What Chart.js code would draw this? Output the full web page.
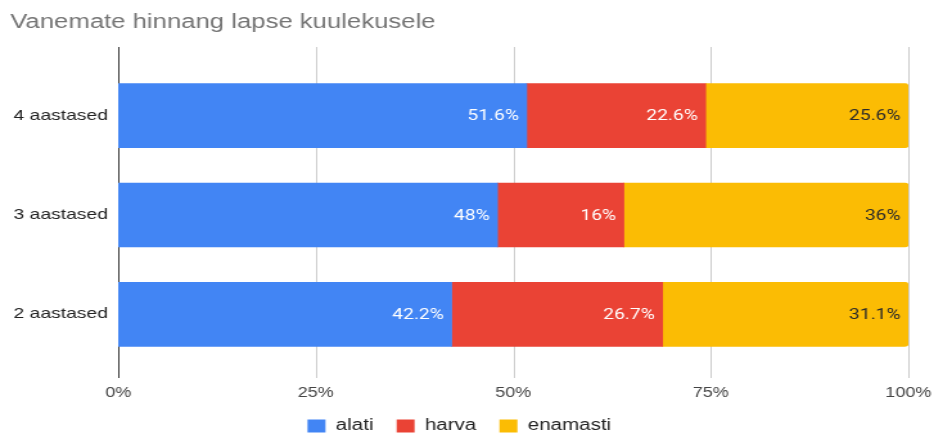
<!DOCTYPE html>
<html>
<head>
<meta charset="utf-8">
<script src="https://cdn.jsdelivr.net/npm/chart.js@4.4.0/dist/chart.umd.min.js"></script>
<style>
  html, body { margin: 0; padding: 0; background: #fff; overflow: hidden; }
  /* originaal on horisontaalselt venitatud, seega venitame ka lõuendit */
  #canvas { display: block; width: 934px; height: 433px; }
</style>
</head>
<body>
<canvas id="canvas" width="727" height="433" style="width:934px;height:433px"></canvas>
<script>
// andmed loetud pildilt
var categories = ["4 aastased", "3 aastased", "2 aastased"];
var alati = [51.6, 48, 42.2];
var harva = [22.6, 16, 26.7];
var enamasti = [25.6, 36, 31.1];
var xTicks = [0, 25, 50, 75, 100];

// 100% virna jaoks normaliseerime rea summa järgi
function normalize(arr) {
    return arr.map(function (v, i) {
        var sum = alati[i] + harva[i] + enamasti[i];
        return v / sum * 100;
    });
}

var axisFont = "'Liberation Sans', Arial, sans-serif";

/**
 * Väärtuste sildid lõigu paremasse serva (datalabels plugina asemel)
 */
var valueLabels = {
    id: 'valueLabels',
    afterDatasetsDraw: function (chart) {
        var ctx = chart.ctx;
        ctx.save();
        ctx.font = "15px Roboto, sans-serif";
        ctx.textAlign = 'right';
        ctx.textBaseline = 'middle';
        chart.data.datasets.forEach(function (ds, di) {
            var meta = chart.getDatasetMeta(di);
            meta.data.forEach(function (bar, i) {
                ctx.fillStyle = ds.labelColor;
                ctx.fillText(ds.raw[i] + '%', bar.x - 6, bar.y + 1);
            });
        });
        ctx.restore();
    }
};

/**
 * Vertikaalsed ruudujooned veidi üle joonise ala
 */
var gridLines = {
    id: 'gridLines',
    beforeDatasetsDraw: function (chart) {
        var ctx = chart.ctx;
        var x = chart.scales.x;
        var area = chart.chartArea;
        ctx.save();
        xTicks.forEach(function (t) {
            var px = Math.round(x.getPixelForValue(t)) + 0.5;
            ctx.strokeStyle = t === 0 ? '#333333' : '#cccccc';
            ctx.lineWidth = 1;
            ctx.beginPath();
            ctx.moveTo(px, area.top - 19);
            ctx.lineTo(px, area.bottom + 14);
            ctx.stroke();
        });
        ctx.restore();
    }
};

var chart = new Chart(document.getElementById("canvas"), {
    type: 'bar',
    data: {
        labels: categories,
        datasets: [{
            label: 'alati',
            data: normalize(alati),
            raw: alati,
            backgroundColor: '#4285F4',
            labelColor: '#ffffff',
            borderRadius: 0
        }, {
            label: 'harva',
            data: normalize(harva),
            raw: harva,
            backgroundColor: '#EA4335',
            labelColor: '#ffffff',
            borderRadius: 0
        }, {
            label: 'enamasti',
            data: normalize(enamasti),
            raw: enamasti,
            backgroundColor: '#FBBC04',
            labelColor: '#2a2a2a',
            borderRadius: 3,
            borderSkipped: 'start'
        }]
    },
    options: {
        indexAxis: 'y',
        responsive: false,
        animation: false,
        layout: { padding: { left: 8, right: 20, top: 0, bottom: 0 } },
        datasets: {
            bar: { barThickness: 64 }
        },
        plugins: {
            title: {
                display: true,
                text: 'Vanemate hinnang lapse kuulekusele',
                align: 'start',
                color: '#757575',
                font: { family: axisFont, size: 20, weight: 'normal' },
                padding: { top: 10, bottom: 32 }
            },
            legend: {
                position: 'bottom',
                maxHeight: 33,
                labels: {
                    boxWidth: 14,
                    boxHeight: 13,
                    padding: 18,
                    color: '#222222',
                    font: { family: axisFont, size: 16 }
                }
            },
            tooltip: { enabled: false }
        },
        scales: {
            x: {
                stacked: true,
                min: 0,
                max: 100,
                afterBuildTicks: function (axis) {
                    axis.ticks = xTicks.map(function (v) { return { value: v }; });
                },
                afterFit: function (axis) {
                    axis.height = 36;
                    axis.paddingLeft = 0;
                    axis.paddingRight = 0;
                },
                grid: { display: false, drawTicks: false },
                border: { display: false },
                ticks: {
                    padding: 21,
                    color: '#444444',
                    font: { family: axisFont, size: 14 },
                    callback: function (v) { return v + '%'; }
                }
            },
            y: {
                stacked: true,
                grid: { display: false, drawTicks: false },
                border: { display: false },
                afterFit: function (axis) { axis.width = 84; },
                ticks: {
                    padding: 8,
                    color: '#222222',
                    font: { family: axisFont, size: 15 }
                }
            }
        }
    },
    plugins: [gridLines, valueLabels]
});
</script>
</body>
</html>
